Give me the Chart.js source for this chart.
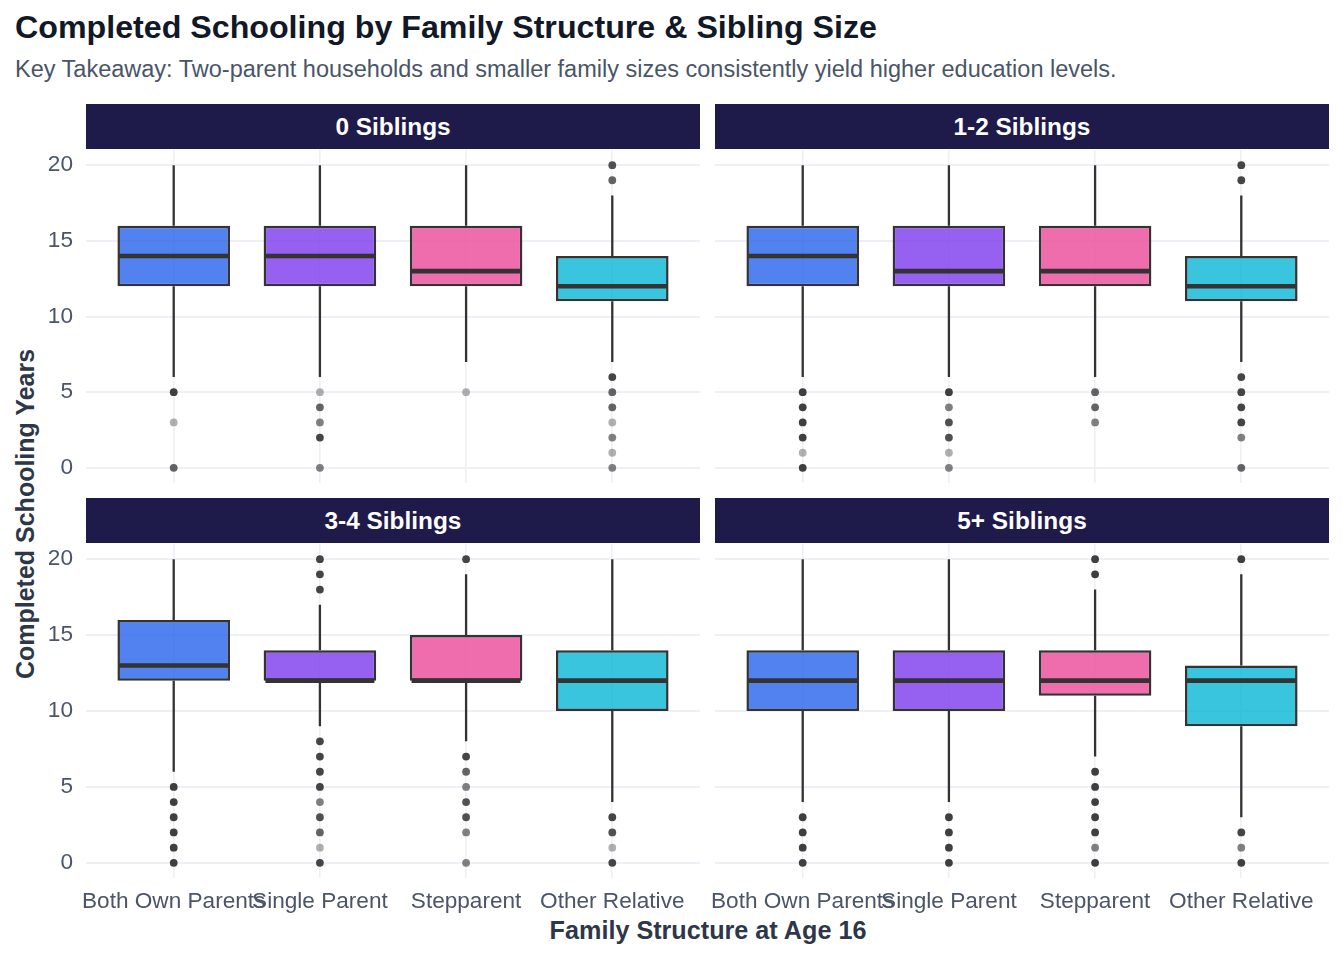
<!DOCTYPE html>
<html>
<head>
<meta charset="utf-8">
<script src="https://cdn.jsdelivr.net/npm/chart.js@4.4.1/dist/chart.umd.min.js"></script>
<style>
  html, body { margin: 0; padding: 0; background: #ffffff; }
  body { width: 1344px; height: 960px; position: relative; overflow: hidden; font-family: "Liberation Sans", Arial, sans-serif; }
  #title { position: absolute; left: 15px; top: 9px; font-size: 32.2px; font-weight: bold; color: #111827; white-space: nowrap; }
  #subtitle { position: absolute; left: 15px; top: 56px; font-size: 23.5px; color: #4a5568; white-space: nowrap; }
  .strip { position: absolute; height: 45px; background: #1e1b4b; color: #ffffff; font-weight: bold; font-size: 24.4px; display: flex; align-items: center; justify-content: center; }
  .wrap { position: absolute; }
  #xtitle { position: absolute; left: 0; width: 1416px; top: 916px; text-align: center; font-size: 25.2px; font-weight: bold; color: #2d3748; }
  #ytitle { position: absolute; left: 25px; top: 514px; transform: translate(-50%, -50%) rotate(-90deg); font-size: 25px; font-weight: bold; color: #2d3748; white-space: nowrap; }
</style>
</head>
<body>
<div id="title">Completed Schooling by Family Structure &amp; Sibling Size</div>
<div id="subtitle">Key Takeaway: Two-parent households and smaller family sizes consistently yield higher education levels.</div>
<div id="xtitle">Family Structure at Age 16</div>
<div id="ytitle">Completed Schooling Years</div>
<script>
// ---------------- DATA ----------------
const facets = ['0 Siblings', '1-2 Siblings', '3-4 Siblings', '5+ Siblings'];
const categories = ['Both Own Parents', 'Single Parent', 'Stepparent', 'Other Relative'];
const yTicks = [0, 5, 10, 15, 20];
const boxColors = ['#2563eb', '#7c3aed', '#ec4899', '#06b6d4'];

// per facet, per category
const whiskerLow  = [[6, 6, 7, 7], [6, 6, 6, 7], [6, 9, 8, 4], [4, 4, 7, 3]];
const q1          = [[12, 12, 12, 11], [12, 12, 12, 11], [12, 12, 12, 10], [10, 10, 11, 9]];
const median      = [[14, 14, 13, 12], [14, 13, 13, 12], [13, 12, 12, 12], [12, 12, 12, 12]];
const q3          = [[16, 16, 16, 14], [16, 16, 16, 14], [16, 14, 15, 14], [14, 14, 14, 13]];
const whiskerHigh = [[20, 20, 20, 18], [20, 20, 20, 18], [20, 17, 19, 20], [20, 20, 18, 19]];

// outlier values and approximate number of overlapping observations
const outlierValues = [
  [[5, 3, 0], [5, 4, 3, 2, 0], [5], [20, 19, 6, 5, 4, 3, 2, 1, 0]],
  [[5, 4, 3, 2, 1, 0], [5, 4, 3, 2, 1, 0], [5, 4, 3], [20, 19, 6, 5, 4, 3, 2, 0]],
  [[5, 4, 3, 2, 1, 0], [20, 19, 18, 8, 7, 6, 5, 4, 3, 2, 1, 0], [20, 7, 6, 5, 4, 3, 2, 0], [3, 2, 1, 0]],
  [[3, 2, 1, 0], [3, 2, 1, 0], [20, 19, 6, 5, 4, 3, 2, 1, 0], [20, 2, 1, 0]]
];
const outlierCounts = [
  [[6, 1, 3], [1, 3, 2, 5, 2], [1], [4, 3, 5, 3, 3, 1, 2, 1, 2]],
  [[6, 6, 6, 6, 1, 6], [6, 2, 4, 4, 1, 2], [3, 3, 2], [5, 5, 5, 5, 5, 5, 2, 3]],
  [[6, 6, 6, 6, 6, 6], [5, 5, 5, 5, 5, 5, 5, 2, 4, 3, 1, 5], [5, 5, 3, 2, 4, 4, 2, 2], [5, 4, 1, 5]],
  [[6, 6, 6, 6], [6, 6, 6, 6], [6, 6, 6, 6, 6, 6, 6, 2, 6], [6, 5, 2, 6]]
];

// ---------------- LAYOUT ----------------
const panels = [
  { left: 86, top: 150, w: 614, h: 333, yLabels: true, xLabels: false },
  { left: 715, top: 150, w: 614, h: 333, yLabels: false, xLabels: false },
  { left: 86, top: 544, w: 614, h: 334, yLabels: true, xLabels: true },
  { left: 715, top: 544, w: 614, h: 334, yLabels: false, xLabels: true }
];

function rgba(hex, a) {
  const r = parseInt(hex.slice(1, 3), 16), g = parseInt(hex.slice(3, 5), 16), b = parseInt(hex.slice(5, 7), 16);
  return `rgba(${r},${g},${b},${a})`;
}

const gridColor = '#eef0f6';
const lineColor = '#333333';
const tickFont = { family: '"Liberation Sans", Arial, sans-serif', size: 22.6 };

panels.forEach((p, fi) => {
  const strip = document.createElement('div');
  strip.className = 'strip';
  strip.style.left = p.left + 'px';
  strip.style.top = (p.top - 46) + 'px';
  strip.style.width = p.w + 'px';
  strip.textContent = facets[fi];
  document.body.appendChild(strip);

  const padL = p.yLabels ? 86 : 15;
  const padR = 15;
  const xAxisH = p.xLabels ? 60 : 0;
  const cLeft = p.left - padL;
  const cW = p.w + padL + padR;
  const cH = p.h + xAxisH;

  const wrap = document.createElement('div');
  wrap.className = 'wrap';
  wrap.style.left = cLeft + 'px';
  wrap.style.top = p.top + 'px';
  wrap.style.width = cW + 'px';
  wrap.style.height = cH + 'px';
  const canvas = document.createElement('canvas');
  wrap.appendChild(canvas);
  document.body.appendChild(wrap);

  const pos = categories.map((c, i) => i + 1);

  const whiskerData = [];
  pos.forEach((x, i) => {
    whiskerData.push({ x, y: whiskerLow[fi][i] }, { x, y: q1[fi][i] }, { x: null, y: null });
    whiskerData.push({ x, y: q3[fi][i] }, { x, y: whiskerHigh[fi][i] }, { x: null, y: null });
  });
  const half = 0.385;
  const medianData = [];
  pos.forEach((x, i) => {
    medianData.push({ x: x - half + 0.012, y: median[fi][i] }, { x: x + half - 0.012, y: median[fi][i] }, { x: null, y: null });
  });
  const outData = [], outColors = [];
  pos.forEach((x, i) => {
    outlierValues[fi][i].forEach((v, k) => {
      const n = outlierCounts[fi][i][k];
      const a = 1 - Math.pow(1 - 0.38, n);
      outData.push({ x, y: v });
      outColors.push(`rgba(51,51,51,${a.toFixed(3)})`);
    });
  });

  new Chart(canvas, {
    type: 'bar',
    data: {
      datasets: [
        {
          type: 'line', label: 'median', data: medianData, order: 1,
          borderColor: lineColor, borderWidth: 4.6, pointRadius: 0, spanGaps: false, fill: false,
          borderCapStyle: 'butt'
        },
        {
          type: 'bar', label: 'box', order: 2,
          data: pos.map((x, i) => ({ x, y: [q1[fi][i], q3[fi][i]] })),
          backgroundColor: boxColors.map(c => rgba(c, 0.8)),
          borderColor: lineColor, borderWidth: 2.5, borderSkipped: false,
          categoryPercentage: 1, barPercentage: 0.77
        },
        {
          type: 'line', label: 'whisker', data: whiskerData, order: 3,
          borderColor: lineColor, borderWidth: 2.3, pointRadius: 0, spanGaps: false, fill: false
        },
        {
          type: 'scatter', label: 'outliers', data: outData, order: 4,
          pointRadius: 3.9, pointBorderWidth: 0, pointBackgroundColor: outColors, showLine: false
        }
      ]
    },
    options: {
      responsive: true, maintainAspectRatio: false, animation: false,
      layout: { padding: { left: 0, right: padR, top: 0, bottom: 0 }, autoPadding: false },
      plugins: { legend: { display: false }, tooltip: { enabled: false } },
      scales: {
        x: {
          type: 'linear', min: 0.4, max: 4.6, offset: false,
          afterBuildTicks: (s) => { s.ticks = pos.map(v => ({ value: v })); },
          afterFit: (s) => { s.height = xAxisH; s.paddingLeft = 0; s.paddingRight = 0; },
          grid: { color: gridColor, lineWidth: 1.6, drawTicks: false, offset: false },
          border: { display: false },
          ticks: {
            display: p.xLabels, padding: 10, color: '#4a5568', font: tickFont, maxRotation: 0, autoSkip: false,
            callback: (v) => categories[v - 1] || ''
          }
        },
        y: {
          type: 'linear', min: -1, max: 21,
          afterBuildTicks: (s) => { s.ticks = yTicks.map(v => ({ value: v })); },
          afterFit: (s) => { s.width = padL; s.paddingTop = 0; s.paddingBottom = 0; },
          grid: { color: gridColor, lineWidth: 2, drawTicks: false },
          border: { display: false },
          ticks: { display: p.yLabels, padding: 13, color: '#4a5568', font: tickFont }
        }
      }
    }
  });
});
</script>
</body>
</html>
